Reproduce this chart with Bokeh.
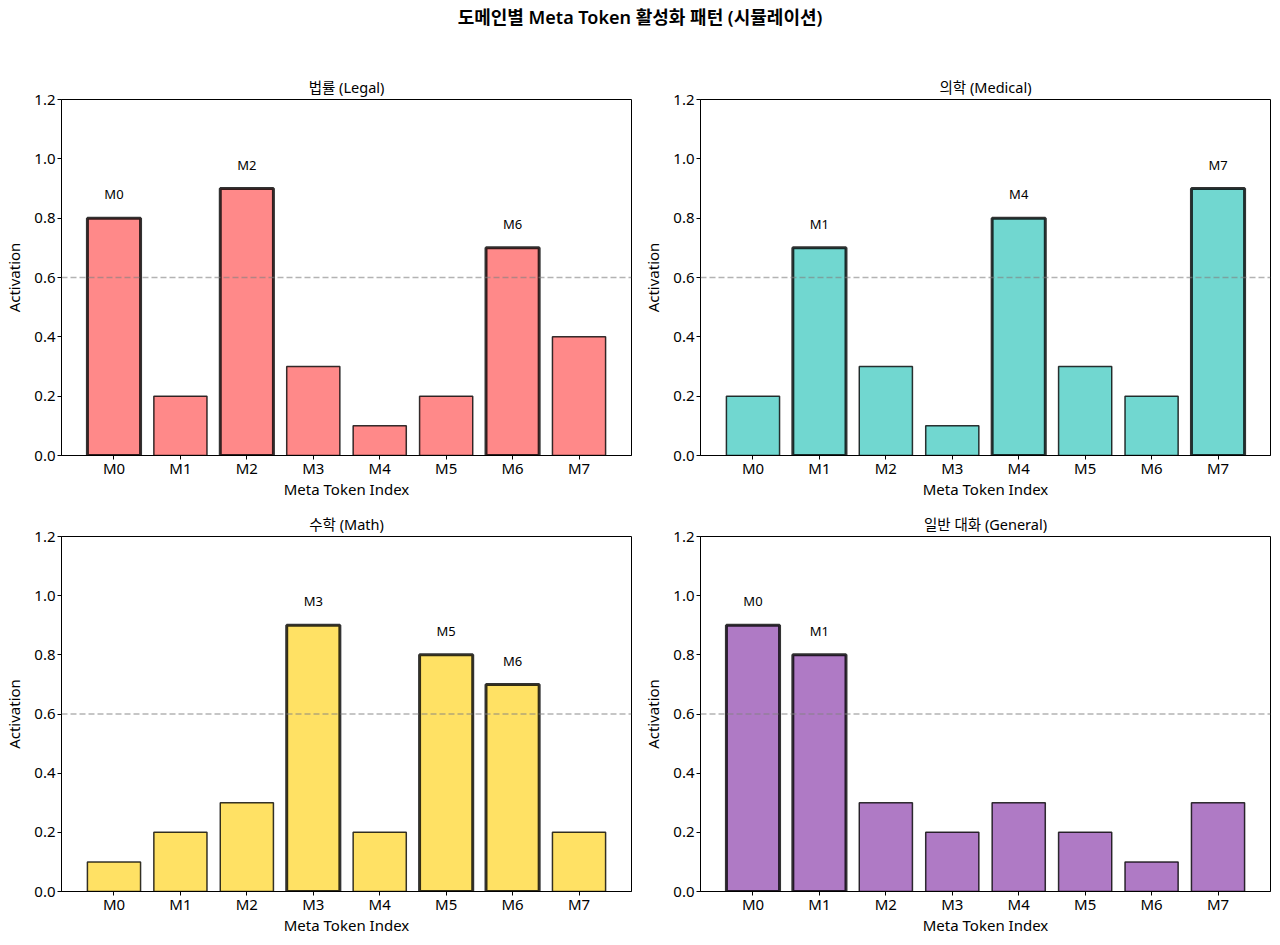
from bokeh.plotting import figure
from bokeh.models import Range1d, FixedTicker, Span, ColumnDataSource, LabelSet, Div, NumeralTickFormatter
from bokeh.layouts import column, row
from bokeh.core.properties import value
from bokeh.embed import file_html
from bokeh.resources import INLINE

FONT = "'Noto Sans', 'Noto Sans CJK KR'"

tokens = ["M0", "M1", "M2", "M3", "M4", "M5", "M6", "M7"]
titles = ["법률 (Legal)", "의학 (Medical)", "수학 (Math)", "일반 대화 (General)"]
legal = [0.8, 0.2, 0.9, 0.3, 0.1, 0.2, 0.7, 0.4]
medical = [0.2, 0.7, 0.3, 0.1, 0.8, 0.3, 0.2, 0.9]
math_ = [0.1, 0.2, 0.3, 0.9, 0.2, 0.8, 0.7, 0.2]
general = [0.9, 0.8, 0.3, 0.2, 0.3, 0.2, 0.1, 0.3]
colors = ["#FF6B6B", "#4ECDC4", "#FFD93D", "#9B59B6"]
threshold = 0.6
main_title = "도메인별 Meta Token 활성화 패턴 (시뮬레이션)"

series = [legal, medical, math_, general]

# geometry per panel: (width, height, left, right, top, bottom)
geom = [
    (639, 459, 61, 8, 51, 52),
    (641, 459, 61, 10, 51, 52),
    (639, 438, 61, 8, 29, 54),
    (641, 438, 61, 10, 29, 54),
]


def make_panel(i):
    vals = series[i]
    w, h, bl, br, bt, bb = geom[i]
    p = figure(width=w, height=h, output_backend="svg", toolbar_location=None,
               x_range=Range1d(-0.79, 7.79), y_range=Range1d(0, 1.2),
               min_border_left=bl, min_border_right=br, min_border_top=bt, min_border_bottom=bb,
               title=titles[i])
    p.title.text_font = FONT
    p.title.text_font_size = "14.5px"
    p.title.text_font_style = "normal"
    p.title.align = "center"
    p.title.standoff = 5
    p.title.text_color = "black"

    xs = list(range(len(tokens)))
    high = [v > threshold for v in vals]
    lw = [3.0 if hgt else 1.5 for hgt in high]
    src = ColumnDataSource(dict(x=xs, top=vals, lw=lw))
    p.vbar(x="x", top="top", width=0.8, source=src, fill_color=colors[i], fill_alpha=0.8,
           line_color="black", line_alpha=0.8, line_width="lw")

    p.add_layout(Span(location=threshold, dimension="width", line_color="gray",
                      line_alpha=0.6, line_dash="6 3", line_width=1.5))

    lx = [x for x, hg in zip(xs, high) if hg]
    ly = [v + 0.05 for v, hg in zip(vals, high) if hg]
    lt = [tokens[x] for x in lx]
    lsrc = ColumnDataSource(dict(x=lx, y=ly, t=lt))
    p.add_layout(LabelSet(x="x", y="y", text="t", source=lsrc, text_align="center",
                          text_baseline="bottom", text_font=value(FONT),
                          text_font_size=value("13px"), text_color="black"))

    p.xgrid.visible = False
    p.ygrid.visible = False
    p.outline_line_color = "black"
    p.outline_line_alpha = 1.0
    p.outline_line_width = 1

    p.xaxis.ticker = FixedTicker(ticks=xs)
    p.xaxis.major_label_overrides = {x: t for x, t in zip(xs, tokens)}
    p.yaxis.ticker = FixedTicker(ticks=[0, 0.2, 0.4, 0.6, 0.8, 1.0, 1.2])
    p.yaxis.formatter = NumeralTickFormatter(format="0.0")
    p.xaxis.axis_label = "Meta Token Index"
    p.yaxis.axis_label = "Activation"
    for ax in (p.xaxis[0], p.yaxis[0]):
        ax.axis_label_text_font = FONT
        ax.axis_label_text_font_size = "15px"
        ax.axis_label_text_font_style = "normal"
        ax.axis_label_text_color = "black"
        ax.major_label_text_font = FONT
        ax.major_label_text_font_size = "15px"
        ax.major_label_text_color = "black"
        ax.minor_tick_line_color = None
        ax.major_tick_in = 0
        ax.major_tick_out = 4
        ax.major_tick_line_color = "black"
        ax.axis_line_color = "black"
    p.xaxis.major_label_standoff = -2
    p.yaxis.major_label_standoff = 2
    p.xaxis.axis_label_standoff = -2
    p.yaxis.axis_label_standoff = 7
    return p


panels = [make_panel(i) for i in range(4)]

title_div = Div(text=main_title, width=1280, height=48, margin=(0, 0, 0, 0),
                styles={"text-align": "center", "font-family": FONT, "font-size": "18px",
                        "font-weight": "600", "line-height": "34px", "color": "black",
                        "width": "1280px"})

layout = column(title_div, row(panels[0], panels[1]), row(panels[2], panels[3]))

with open("out.html", "w") as f:
    f.write(file_html(layout, INLINE))
